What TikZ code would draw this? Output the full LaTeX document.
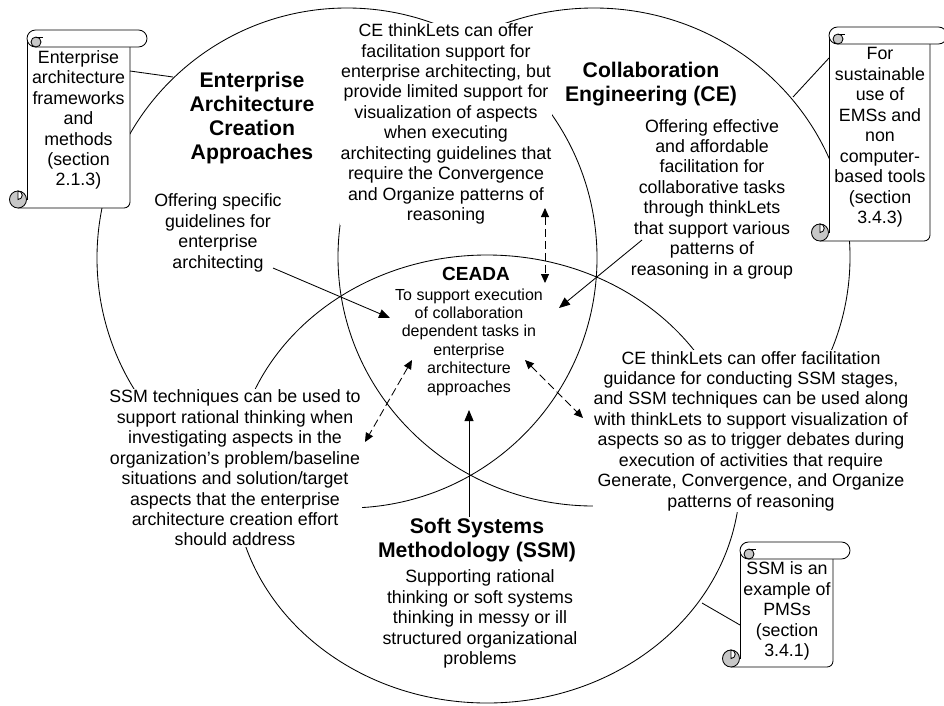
\documentclass[tikz,border=0pt]{standalone}
\usepackage{fontspec}
\setmainfont{Liberation Sans}
\usetikzlibrary{arrows.meta,calc}

\tikzset{
  ring/.style={line width=0.85pt},
  txt/.style={align=center, inner sep=1pt, fill=white,
    font=\fontsize{17.8}{20.45}\selectfont},
  scrolltxt/.style={align=center, inner sep=1pt,
    font=\fontsize{17.8}{20.45}\selectfont},
  heading/.style={align=center, inner sep=1pt, fill=white,
    font=\fontsize{21.2}{24}\selectfont\bfseries},
  smalltxt/.style={align=center, inner sep=1pt,
    font=\fontsize{16}{18.4}\selectfont},
  smallhead/.style={align=center, inner sep=1pt,
    font=\fontsize{19}{22}\selectfont\bfseries},
  link/.style={line width=0.85pt},
  pointer/.style={line width=0.85pt, -{Triangle[length=11pt,width=9pt]}},
  twoway/.style={line width=0.85pt, dash pattern=on 8pt off 4pt,
    {Triangle[length=9pt,width=8pt]}-{Triangle[length=9pt,width=8pt]}},
  scrollline/.style={line width=0.85pt},
  curlfill/.style={fill=black!22},
}

% vertical scroll: #1 left, #2 top of the roll, #3 right, #4 bottom
\newcommand\vscroll[4]{%
  \fill[white] (#1,{#2+8.5}) rectangle (#3,#4);
  \draw[scrollline] (#1,{#2+8.5}) -- (#1,{#4-8.5});
  \draw[scrollline] ({#1-9},#4) -- ({#3-6},#4)
    arc[start angle=90,end angle=0,radius=6] -- (#3,{#2+17});
  % roll at the top
  \filldraw[scrollline,fill=white] ({#1+8.5},#2) -- ({#3+8.5},#2)
    arc[start angle=-90,end angle=90,radius=8.5] -- ({#1+8.5},{#2+17})
    arc[start angle=90,end angle=270,radius=8.5] -- cycle;
  \filldraw[scrollline,curlfill] ({#1+9},{#2+12}) circle[radius=5];
  \draw[scrollline] ({#1+9},{#2+7}) -- ({#1+16},{#2+7});
  % curl at the bottom
  \filldraw[scrollline,curlfill] ({#1-9},{#4-8.5}) circle[radius=8.5];
  \filldraw[scrollline,fill=white] ({#1-9},{#4-17})
    arc[start angle=-90,end angle=90,radius=4.25] -- cycle;
}

\begin{document}
\begin{tikzpicture}[x=1pt,y=-1pt]
\useasboundingbox (0,0) rectangle (944,705);

% the three approaches
\draw[ring] (347,258) circle[radius=250];
\draw[ring] (594,257) ellipse[x radius=256, y radius=249];
\draw[ring] (487,479) ellipse[x radius=253, y radius=224];

% texts
\node[heading] (eahead) at (252,118) {Enterprise\\Architecture\\Creation\\Approaches};
\node[txt] (eadesc) at (218,233) {Offering specific\\guidelines for\\enterprise\\architecting};
\node[heading] (cehead) at (651,84) {Collaboration\\Engineering (CE)};
\node[txt] (cedesc) at (712,199) {Offering effective\\and affordable\\facilitation for\\collaborative tasks\\through thinkLets\\that support various\\patterns of\\reasoning in a group};
\node[txt] (eace) at (446,124) {CE thinkLets can offer\\facilitation support for\\enterprise architecting, but\\provide limited support for\\visualization of aspects\\when executing\\architecting guidelines that\\require the Convergence\\and Organize patterns of\\reasoning};
\node[smallhead] (ceadahead) at (476,274) {CEADA};
\node[smalltxt] (ceada) at (469,342) {To support execution\\of collaboration\\dependent tasks in\\enterprise\\architecture\\approaches};
\node[heading] (ssmhead) at (477,540) {Soft Systems\\Methodology (SSM)};
\node[txt] (ssmdesc) at (480,619) {Supporting rational\\thinking or soft systems\\thinking in messy or ill\\structured organizational\\problems};
\node[txt] (eassm) at (235,468) {SSM techniques can be used to\\support rational thinking when\\investigating aspects in the\\organization’s problem/baseline\\situations and solution/target\\aspects that the enterprise\\architecture creation effort\\should address};
\node[txt] (cessm) at (751,431) {CE thinkLets can offer facilitation\\guidance for conducting SSM stages,\\and SSM techniques can be used along\\with thinkLets to support visualization of\\aspects so as to trigger debates during\\execution of activities that require\\Generate, Convergence, and Organize\\patterns of reasoning};

% scrolls with the sources
\vscroll{27}{30}{130}{208}
\node[scrolltxt] (s1) at (78.5,120) {Enterprise\\architecture\\frameworks\\and\\methods\\(section\\2.1.3)};
\vscroll{829}{27}{930}{241}
\node[scrolltxt] (s2) at (880,137.5) {For\\sustainable\\use of\\EMSs and\\non\\computer-\\based tools\\(section\\3.4.3)};
\vscroll{740}{542}{833}{667}
\node[scrolltxt] (s3) at (787,611) {SSM is an\\example of\\PMSs\\(section\\3.4.1)};

% connector end points
\coordinate (s1out) at (130,71);   \coordinate (eaedge) at (173,77);
\coordinate (s2out) at (829,58);   \coordinate (ceedge) at (793,97);
\coordinate (s3out) at (740,625);  \coordinate (ssmedge) at (702,603);
\coordinate (eadescend) at (273,268);  \coordinate (ceadaW) at (390,318);
\coordinate (cedescend) at (642,240);  \coordinate (ceadaE) at (559,308);
\coordinate (ceadaS) at (469,410);
\coordinate (eaceend) at (545,208);    \coordinate (ceadaN) at (545,283);
\coordinate (ceadaSW) at (412,360);    \coordinate (eassmend) at (365,442);
\coordinate (ceadaSE) at (525,360);    \coordinate (cessmend) at (583,418);

\draw[link] (s1out) -- (eaedge);
\draw[link] (s2out) -- (ceedge);
\draw[link] (s3out) -- (ssmedge);

\draw[pointer] (eadescend) -- (ceadaW);
\draw[pointer] (cedescend) -- (ceadaE);
\draw[pointer] (ceadaS |- ssmhead.north) -- (ceadaS);

\draw[twoway] (eaceend) -- (ceadaN);
\draw[twoway] (ceadaSW) -- (eassmend);
\draw[twoway] (ceadaSE) -- (cessmend);
\end{tikzpicture}
\end{document}
